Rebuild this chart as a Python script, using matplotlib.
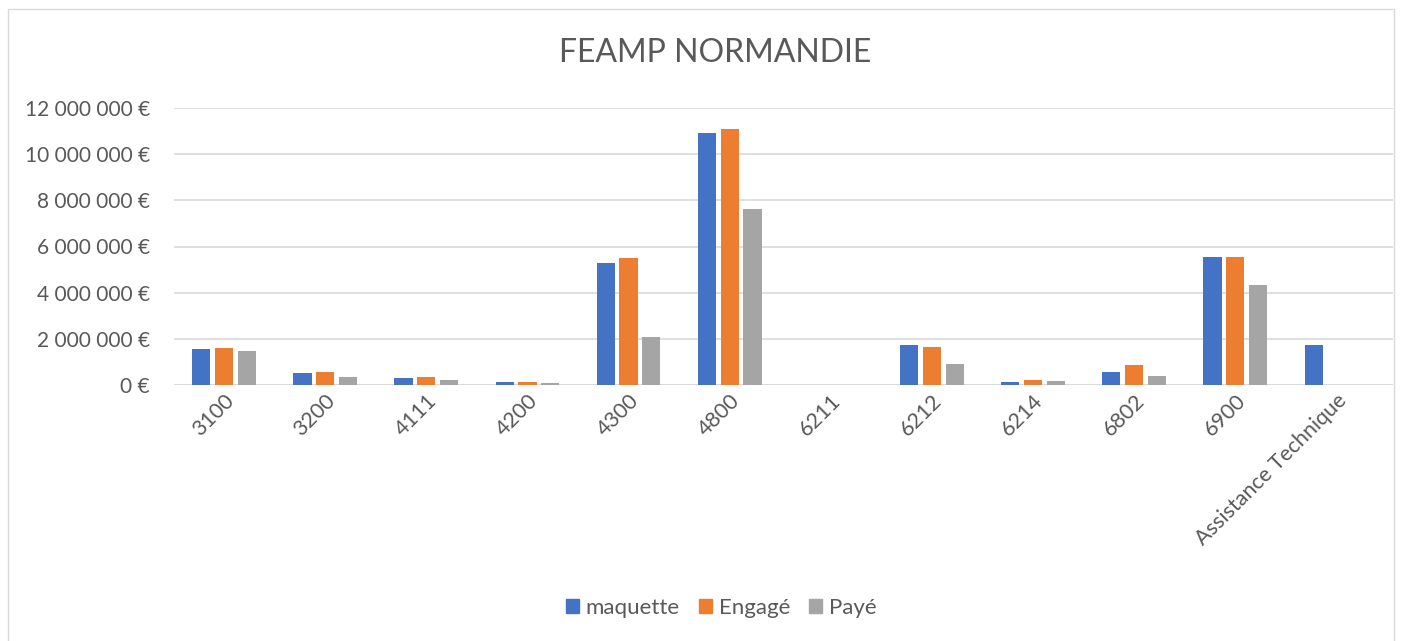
import numpy as np
import matplotlib
matplotlib.use('Agg')
import matplotlib.pyplot as plt
import matplotlib.patches as mpatches
from matplotlib.ticker import FuncFormatter

plt.rcParams['font.family'] = ['Lato', 'DejaVu Sans']

categories = ['3100', '3200', '4111', '4200', '4300', '4800', '6211',
              '6212', '6214', '6802', '6900', 'Assistance Technique']
maquette = [1.55e6, 0.52e6, 0.30e6, 0.13e6, 5.30e6, 10.91e6, 0,
            1.73e6, 0.13e6, 0.55e6, 5.55e6, 1.75e6]
engage = [1.59e6, 0.58e6, 0.33e6, 0.13e6, 5.49e6, 11.09e6, 0,
          1.65e6, 0.22e6, 0.85e6, 5.55e6, 0]
paye = [1.47e6, 0.33e6, 0.20e6, 0.09e6, 2.08e6, 7.63e6, 0,
        0.92e6, 0.16e6, 0.39e6, 4.34e6, 0]
series_names = ['maquette', 'Engagé', 'Payé']
colors = ['#4472c4', '#ed7d31', '#a5a5a5']

TEXT = '#595959'

fig = plt.figure(figsize=(14.03, 6.41), dpi=100)
ax = fig.add_axes([173.5 / 1403, 1 - 385 / 641, (1393 - 173.5) / 1403, 277 / 641])

# outer chart border
fig.patches.append(mpatches.Rectangle((8 / 1403, -0.01), 1386 / 1403, 1 - 9 / 641 + 0.01,
                                      transform=fig.transFigure, fill=False,
                                      ec='#d9d9d9', lw=1))

x = np.arange(len(categories))
width = 0.18
step = 0.225
for i, (vals, name, c) in enumerate(zip([maquette, engage, paye], series_names, colors)):
    ax.bar(x + (i - 1) * step, vals, width, color=c, label=name, zorder=3)

ax.set_xlim(-0.5, len(categories) - 0.44)
ax.set_ylim(0, 12e6)
ax.set_yticks(np.arange(0, 12e6 + 1, 2e6))
ax.yaxis.set_major_formatter(FuncFormatter(
    lambda v, p: '{:,.0f} €'.format(v).replace(',', ' ')))
ax.grid(axis='y', color='#d9d9d9', lw=1.2, zorder=0)
for s in ax.spines.values():
    s.set_visible(False)
ax.tick_params(axis='both', length=0, colors=TEXT)
ax.tick_params(axis='y', pad=17, labelsize=15)
ax.tick_params(axis='x', pad=4, labelsize=15.5)
ax.set_xticks(x)
ax.set_xticklabels(categories, rotation=45, ha='right', rotation_mode='anchor')
ax.axhline(0, color='#d9d9d9', lw=1.2, zorder=2)

fig.text(715 / 1403, 1 - 53 / 641, 'FEAMP NORMANDIE', ha='center', va='center',
         fontsize=23, color=TEXT)

handles = [mpatches.Patch(color=c, label=n) for c, n in zip(colors, series_names)]
fig.legend(handles=handles, loc='center', bbox_to_anchor=(721 / 1403, 1 - 608 / 641),
           ncol=3, frameon=False, fontsize=16, labelcolor=TEXT,
           handlelength=0.6, handleheight=0.6, handletextpad=0.3, columnspacing=0.85)

fig.savefig('out.png', dpi=100)
